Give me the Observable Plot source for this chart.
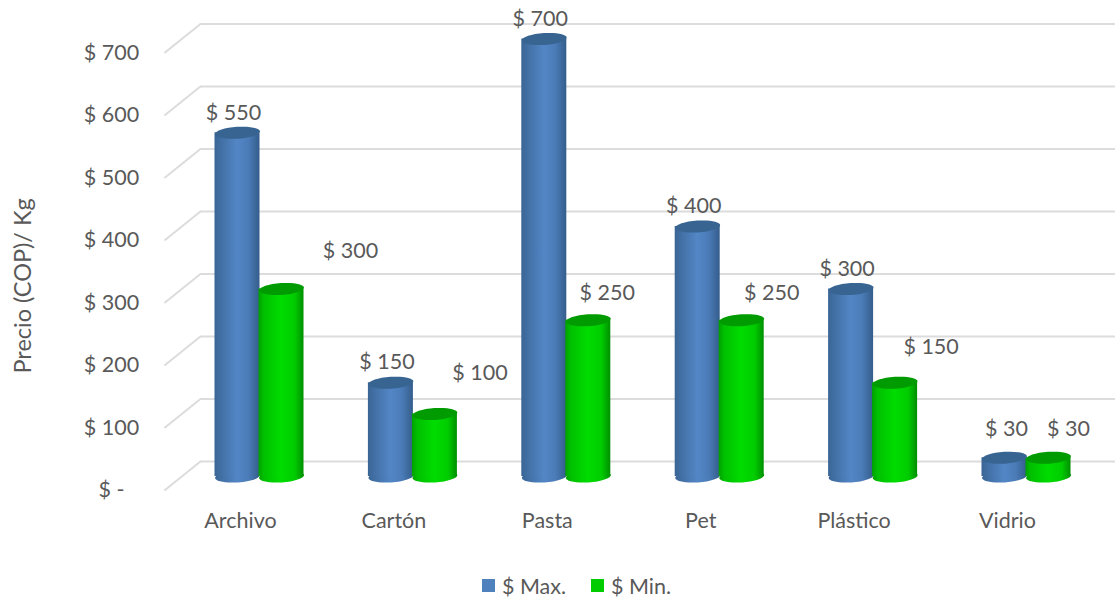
<!DOCTYPE html>
<html><head><meta charset="utf-8">
<script src="https://cdn.jsdelivr.net/npm/d3@7"></script>
<script src="https://cdn.jsdelivr.net/npm/@observablehq/plot@0.6"></script>
<style>
html,body{margin:0;padding:0;background:#fff;overflow:hidden}
#legend{height:31px;display:flex;align-items:center;justify-content:center;padding-left:38px;box-sizing:border-box;width:1115px;font:21.5px Lato,sans-serif;color:#595959}
#legend i{display:inline-block;width:13px;height:13px;margin-right:7px}
#legend span{margin-right:25px;display:flex;align-items:center}
#legend span:last-child{margin-right:0}
</style></head><body>
<div id="chart"></div>
<div id="legend"><span><i style="background:#4f81bd"></i>$ Max.</span><span><i style="background:#00cc00"></i>$ Min.</span></div>
<script>
const categories = ["Archivo","Cartón","Pasta","Pet","Plástico","Vidrio"];
const maxValues = [550,150,700,400,300,30];
const minValues = [300,100,250,250,150,30];
const yTicks = [0,100,200,300,400,500,600,700];
// per-label nudges (px), as placed by hand in the original
const maxLabelDx = [-4,-4,-4,-4,-4,2];
const maxLabelDy = [-20,-21,-20,-20,-20,-29];
const minLabelDx = [69,45,19,30,36,20];
const minLabelDy = [-38,-41,-27,-27,-36,-29];

const barOffset = 22/153.4, barHalf = 22.5/153.4;
const wallLeft = -0.385, wallFront = -0.62, wallRight = 5.58;
const backDepth = 24, frontDepth = -22.4;
const rows = [
  ...categories.map((c,i)=>({c,i,v:maxValues[i],pos:i-barOffset,body:"url(#gBlue)",top:"#376491",dx:maxLabelDx[i],dy:maxLabelDy[i]})),
  ...categories.map((c,i)=>({c,i,v:minValues[i],pos:i+barOffset,body:"url(#gGreen)",top:"#009b00",dx:minLabelDx[i],dy:minLabelDy[i]}))
];
const ellipse = {draw(ctx){
  const rx=22.5, ry=5.9, t=-0.07, k=0.5523;
  const p=(x,y)=>[x*Math.cos(t)-y*Math.sin(t), x*Math.sin(t)+y*Math.cos(t)];
  ctx.moveTo(...p(rx,0));
  ctx.bezierCurveTo(...p(rx,k*ry),...p(k*rx,ry),...p(0,ry));
  ctx.bezierCurveTo(...p(-k*rx,ry),...p(-rx,k*ry),...p(-rx,0));
  ctx.bezierCurveTo(...p(-rx,-k*ry),...p(-k*rx,-ry),...p(0,-ry));
  ctx.bezierCurveTo(...p(k*rx,-ry),...p(rx,-k*ry),...p(rx,0));
  ctx.closePath();
}};
const defs = () => {
  const d = d3.create("svg:defs");
  const grad=(id,stops)=>{const g=d.append("linearGradient").attr("id",id);
    stops.forEach(([o,c])=>g.append("stop").attr("offset",o).attr("stop-color",c));};
  grad("gBlue",[[0,"#3a6595"],[0.18,"#4472a8"],[0.5,"#5386c6"],[0.75,"#4b7cb8"],[1,"#345d8b"]]);
  grad("gGreen",[[0,"#00a000"],[0.12,"#00c000"],[0.5,"#00dc00"],[0.8,"#00cc00"],[1,"#008f00"]]);
  return d.node();
};
const font = "Lato, sans-serif";
const fs = 21.5;
const chart = Plot.plot({
  width:1115, height:570, margin:0,
  style:{fontFamily:font, background:"#fff"},
  x:{domain:[0,5], range:[259,1026], axis:null},
  y:{domain:[0,700], range:[476,38.5], axis:null},
  marks:[
    defs,
    Plot.ruleY(yTicks,{x1:wallLeft,x2:wallRight,dy:-15,stroke:"#dcdcdc",strokeWidth:2}),
    Plot.link(yTicks,{x1:wallFront,x2:wallLeft,y1:d=>d+frontDepth,y2:d=>d+backDepth,stroke:"#dcdcdc",strokeWidth:2}),
    Plot.axisY(yTicks.map(d=>d),{anchor:"left",tickSize:0,tickPadding:0,textAnchor:"middle",dx:111,dy:14,fontSize:fs,fill:"#595959",
      tickFormat:d=>d===0?"$ -":`$ ${d}`,label:null}),
    Plot.dot(rows,{x:"pos",y:()=>0,symbol:ellipse,r:20,fill:"body"}),
    Plot.rectY(rows,{x1:d=>d.pos-barHalf,x2:d=>d.pos+barHalf,y1:()=>0,y2:"v",fill:"body"}),
    Plot.dot(rows,{x:"pos",y:"v",symbol:ellipse,r:20,fill:"top"}),
    ...rows.map(r=>Plot.text([r],{x:"pos",y:"v",text:d=>`$ ${d.v}`,dx:r.dx,dy:r.dy,fontSize:fs,fill:"#595959"})),
    Plot.text(categories,{x:(d,i)=>i,y:()=>0,text:d=>d,dx:-19,dy:45,fontSize:fs,fill:"#595959"}),
    Plot.text(["Precio (COP)/ Kg"],{frameAnchor:"left",textAnchor:"middle",y:()=>305,dx:23,rotate:-90,fontSize:fs+2,fill:"#595959"})
  ]
});
document.getElementById("chart").appendChild(chart);
</script>
</body></html>
